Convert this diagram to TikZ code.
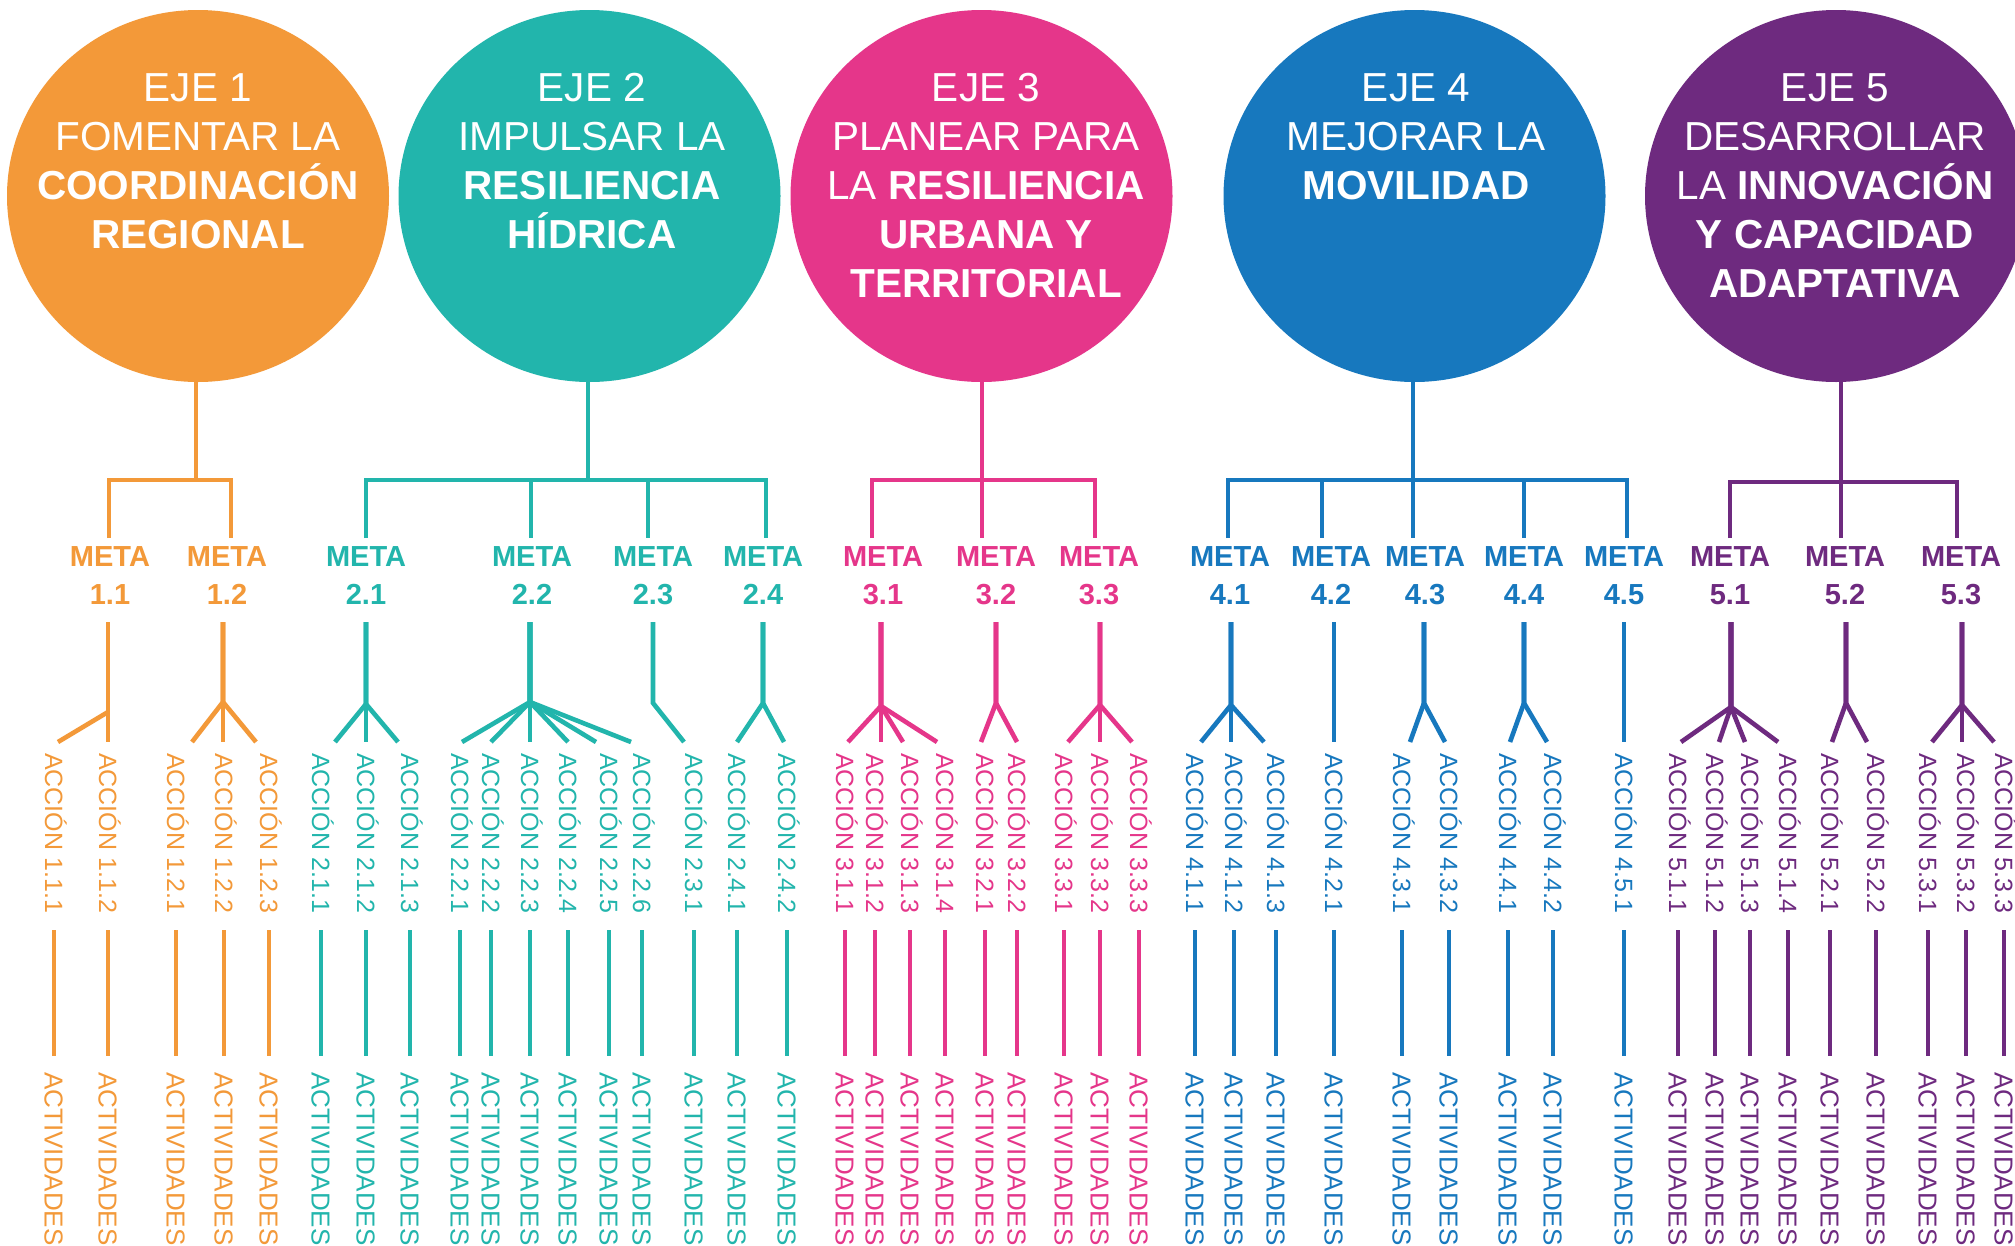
\documentclass[tikz,border=0pt]{standalone}
\usepackage{fontspec}
\setmainfont{Liberation Sans}
\usetikzlibrary{shapes.geometric}
\definecolor{c1}{HTML}{F39939}
\definecolor{c2}{HTML}{22B5AC}
\definecolor{c3}{HTML}{E5368A}
\definecolor{c4}{HTML}{1778BE}
\definecolor{c5}{HTML}{6E2A7F}
\newcommand\ejeline[4]{\node[ejetxt] (#1) at (#2,#3) {#4};}
\newcommand\metanode[4]{%
  \node[metatxt=#4] (m#1) at (#3,566) {META};
  \node[metatxt=#4] (n#1) at (#3,604) {#2};}
\newcommand\accnode[4]{%
  \node[accl=#4] (a#1) at (#3,742) {ACCIÓN #2};
  \node[actl=#4] (v#1) at (#3,1056) {ACTIVIDADES};
  \draw[midline=#4] (a#1.east) -- (v#1.west);}
\begin{document}
\begin{tikzpicture}[x=1pt,y=-1pt,
  ejetxt/.style={anchor=base, text=white, inner sep=0pt, font=\fontsize{40.5}{40.5}\selectfont},
  circ/.style={ellipse, minimum width=382pt, minimum height=372pt, inner sep=0pt, fill=#1},
  metatxt/.style={anchor=base, text=#1, inner sep=0pt, font=\bfseries\fontsize{29}{29}\selectfont},
  accl/.style={rotate=-90, anchor=west, text=#1, inner xsep=11pt, inner ysep=0pt, text height=17.9pt, text depth=0pt, font=\fontsize{25}{25}\selectfont},
  actl/.style={rotate=-90, anchor=west, text=#1, inner xsep=16pt, inner ysep=0pt, text height=18.6pt, text depth=0pt, font=\fontsize{26}{26}\selectfont},
  brk/.style={draw=#1, line width=4.6pt, line join=miter},
  midline/.style={draw=#1, line width=3.8pt, shorten <=6pt},
]
\useasboundingbox (0,0) rectangle (2015,1245);
\fill[white] (0,0) rectangle (2015,1245);

% ---- ejes ----
\node[circ=c1] (e1) at (198,196) {};
\node[circ=c2] (e2) at (589.5,196) {};
\node[circ=c3] (e3) at (981.5,196) {};
\node[circ=c4] (e4) at (1414.5,196) {};
\node[circ=c5] (e5) at (1836,196) {};

\ejeline{e1a}{198}{101}{EJE 1}
\ejeline{e1b}{198}{150}{FOMENTAR LA}
\ejeline{e1c}{198}{199}{\textbf{COORDINACIÓN}}
\ejeline{e1d}{198}{248}{\textbf{REGIONAL}}

\ejeline{e2a}{592}{101}{EJE 2}
\ejeline{e2b}{592}{150}{IMPULSAR LA}
\ejeline{e2c}{592}{199}{\textbf{RESILIENCIA}}
\ejeline{e2d}{592}{248}{\textbf{HÍDRICA}}

\ejeline{e3a}{986}{101}{EJE 3}
\ejeline{e3b}{986}{150}{PLANEAR PARA}
\ejeline{e3c}{986}{199}{LA \textbf{RESILIENCIA}}
\ejeline{e3d}{986}{248}{\textbf{URBANA Y}}
\ejeline{e3e}{986}{297}{\textbf{TERRITORIAL}}

\ejeline{e4a}{1416}{101}{EJE 4}
\ejeline{e4b}{1416}{150}{MEJORAR LA}
\ejeline{e4c}{1416}{199}{\textbf{MOVILIDAD}}

\ejeline{e5a}{1835}{101}{EJE 5}
\ejeline{e5b}{1835}{150}{DESARROLLAR}
\ejeline{e5c}{1835}{199}{LA \textbf{INNOVACIÓN}}
\ejeline{e5d}{1835}{248}{\textbf{Y CAPACIDAD}}
\ejeline{e5e}{1835}{297}{\textbf{ADAPTATIVA}}

% ---- metas ----
\metanode{11}{1.1}{110}{c1}
\metanode{12}{1.2}{227}{c1}
\metanode{21}{2.1}{366}{c2}
\metanode{22}{2.2}{532}{c2}
\metanode{23}{2.3}{653}{c2}
\metanode{24}{2.4}{763}{c2}
\metanode{31}{3.1}{883}{c3}
\metanode{32}{3.2}{996}{c3}
\metanode{33}{3.3}{1099}{c3}
\metanode{41}{4.1}{1230}{c4}
\metanode{42}{4.2}{1331}{c4}
\metanode{43}{4.3}{1425}{c4}
\metanode{44}{4.4}{1524}{c4}
\metanode{45}{4.5}{1624}{c4}
\metanode{51}{5.1}{1730}{c5}
\metanode{52}{5.2}{1845}{c5}
\metanode{53}{5.3}{1961}{c5}

% ---- brackets ----
\coordinate (j1) at (196,480);
\coordinate (d11) at (109,538); \coordinate (d12) at (231,538);
\draw[brk=c1] (j1 |- e1.south) -- (j1);
\draw[brk=c1] (d11) -- (d11 |- j1) -- (d12 |- j1) -- (d12);

\coordinate (j2) at (588,480);
\coordinate (d21) at (366,538); \coordinate (d22) at (531,538);
\coordinate (d23) at (648,538); \coordinate (d24) at (766,538);
\draw[brk=c2] (j2 |- e2.south) -- (j2);
\draw[brk=c2] (d21) -- (d21 |- j2) -- (d24 |- j2) -- (d24);
\draw[brk=c2] (d22 |- j2) -- (d22);
\draw[brk=c2] (d23 |- j2) -- (d23);

\coordinate (j3) at (982,480);
\coordinate (d31) at (872,538); \coordinate (d32) at (982,538); \coordinate (d33) at (1095,538);
\draw[brk=c3] (j3 |- e3.south) -- (j3);
\draw[brk=c3] (d31) -- (d31 |- j3) -- (d33 |- j3) -- (d33);
\draw[brk=c3] (d32 |- j3) -- (d32);

\coordinate (j4) at (1413,480);
\coordinate (d41) at (1228,538); \coordinate (d42) at (1322,538); \coordinate (d43) at (1413,538);
\coordinate (d44) at (1524,538); \coordinate (d45) at (1627,538);
\draw[brk=c4] (j4 |- e4.south) -- (j4);
\draw[brk=c4] (d41) -- (d41 |- j4) -- (d45 |- j4) -- (d45);
\draw[brk=c4] (d42 |- j4) -- (d42);
\draw[brk=c4] (d43 |- j4) -- (d43);
\draw[brk=c4] (d44 |- j4) -- (d44);

\coordinate (j5) at (1841,482);
\coordinate (d51) at (1730,538); \coordinate (d52) at (1841,538); \coordinate (d53) at (1957,538);
\draw[brk=c5] (j5 |- e5.south) -- (j5);
\draw[brk=c5] (d51) -- (d51 |- j5) -- (d53 |- j5) -- (d53);
\draw[brk=c5] (d52 |- j5) -- (d52);

% ---- acciones ----
\accnode{111}{1.1.1}{54}{c1}
\accnode{112}{1.1.2}{108}{c1}
\accnode{121}{1.2.1}{176}{c1}
\accnode{122}{1.2.2}{224}{c1}
\accnode{123}{1.2.3}{269}{c1}
\accnode{211}{2.1.1}{321}{c2}
\accnode{212}{2.1.2}{366}{c2}
\accnode{213}{2.1.3}{410}{c2}
\accnode{221}{2.2.1}{460}{c2}
\accnode{222}{2.2.2}{491}{c2}
\accnode{223}{2.2.3}{530}{c2}
\accnode{224}{2.2.4}{568}{c2}
\accnode{225}{2.2.5}{609}{c2}
\accnode{226}{2.2.6}{642}{c2}
\accnode{231}{2.3.1}{694}{c2}
\accnode{241}{2.4.1}{737}{c2}
\accnode{242}{2.4.2}{787}{c2}
\accnode{311}{3.1.1}{845}{c3}
\accnode{312}{3.1.2}{875}{c3}
\accnode{313}{3.1.3}{910}{c3}
\accnode{314}{3.1.4}{945}{c3}
\accnode{321}{3.2.1}{985}{c3}
\accnode{322}{3.2.2}{1017}{c3}
\accnode{331}{3.3.1}{1064}{c3}
\accnode{332}{3.3.2}{1100}{c3}
\accnode{333}{3.3.3}{1139}{c3}
\accnode{411}{4.1.1}{1195}{c4}
\accnode{412}{4.1.2}{1234}{c4}
\accnode{413}{4.1.3}{1276}{c4}
\accnode{421}{4.2.1}{1334}{c4}
\accnode{431}{4.3.1}{1402}{c4}
\accnode{432}{4.3.2}{1449}{c4}
\accnode{441}{4.4.1}{1508}{c4}
\accnode{442}{4.4.2}{1553}{c4}
\accnode{451}{4.5.1}{1624}{c4}
\accnode{511}{5.1.1}{1678}{c5}
\accnode{512}{5.1.2}{1715}{c5}
\accnode{513}{5.1.3}{1750}{c5}
\accnode{514}{5.1.4}{1788}{c5}
\accnode{521}{5.2.1}{1830}{c5}
\accnode{522}{5.2.2}{1876}{c5}
\accnode{531}{5.3.1}{1928}{c5}
\accnode{532}{5.3.2}{1966}{c5}
\accnode{533}{5.3.3}{2004}{c5}

% ---- forks ----
\coordinate (t11) at (108,622); \coordinate (f11) at (108,712);
\draw[brk=c1] (t11) -- (a112.west);
\draw[brk=c1] (f11) -- ([xshift=4pt]a111.west);

\coordinate (t12) at (223,622); \coordinate (f12) at (223,702);
\draw[brk=c1] (t12) -- (f12) -- ([xshift=16pt]a121.west);
\draw[brk=c1] (t12) -- (f12) -- ([xshift=-1pt]a122.west);
\draw[brk=c1] (t12) -- (f12) -- ([xshift=-13pt]a123.west);

\coordinate (t21) at (366,622); \coordinate (f21) at (366,704);
\draw[brk=c2] (t21) -- (f21) -- ([xshift=14pt]a211.west);
\draw[brk=c2] (t21) -- (f21) -- (a212.west);
\draw[brk=c2] (t21) -- (f21) -- ([xshift=-12pt]a213.west);

\coordinate (t22) at (530,622); \coordinate (f22) at (530,702);
\draw[brk=c2] (t22) -- (f22) -- ([xshift=2pt]a221.west);
\draw[brk=c2] (t22) -- (f22) -- (a222.west);
\draw[brk=c2] (t22) -- (f22) -- (a223.west);
\draw[brk=c2] (t22) -- (f22) -- (a224.west);
\draw[brk=c2] (t22) -- (f22) -- ([xshift=-13pt]a225.west);
\draw[brk=c2] (t22) -- (f22) -- ([xshift=-11pt]a226.west);

\coordinate (t23) at (653,622); \coordinate (f23) at (653,703);
\draw[brk=c2] (t23) -- (f23) -- ([xshift=-10pt]a231.west);

\coordinate (t24) at (763,622); \coordinate (f24) at (763,703);
\draw[brk=c2] (t24) -- (f24) -- (a241.west);
\draw[brk=c2] (t24) -- (f24) -- ([xshift=-3pt]a242.west);

\coordinate (t31) at (881,622); \coordinate (f31) at (881,706);
\draw[brk=c3] (t31) -- (f31) -- ([xshift=3pt]a311.west);
\draw[brk=c3] (t31) -- (f31) -- ([xshift=6pt]a312.west);
\draw[brk=c3] (t31) -- (f31) -- ([xshift=-7pt]a313.west);
\draw[brk=c3] (t31) -- (f31) -- ([xshift=-8pt]a314.west);

\coordinate (t32) at (996,622); \coordinate (f32) at (996,703);
\draw[brk=c3] (t32) -- (f32) -- ([xshift=-4pt]a321.west);
\draw[brk=c3] (t32) -- (f32) -- (a322.west);

\coordinate (t33) at (1100,622); \coordinate (f33) at (1100,705);
\draw[brk=c3] (t33) -- (f33) -- ([xshift=4pt]a331.west);
\draw[brk=c3] (t33) -- (f33) -- (a332.west);
\draw[brk=c3] (t33) -- (f33) -- ([xshift=-7pt]a333.west);

\coordinate (t41) at (1231,622); \coordinate (f41) at (1231,705);
\draw[brk=c4] (t41) -- (f41) -- ([xshift=6pt]a411.west);
\draw[brk=c4] (t41) -- (f41) -- ([xshift=-3pt]a412.west);
\draw[brk=c4] (t41) -- (f41) -- ([xshift=-12pt]a413.west);

\coordinate (t42) at (1334,622);
\draw[brk=c4] (t42) -- (a421.west);

\coordinate (t43) at (1424,622); \coordinate (f43) at (1424,703);
\draw[brk=c4] (t43) -- (f43) -- ([xshift=8pt]a431.west);
\draw[brk=c4] (t43) -- (f43) -- ([xshift=-4pt]a432.west);

\coordinate (t44) at (1524,622); \coordinate (f44) at (1524,703);
\draw[brk=c4] (t44) -- (f44) -- ([xshift=2pt]a441.west);
\draw[brk=c4] (t44) -- (f44) -- ([xshift=-6pt]a442.west);

\coordinate (t45) at (1624,622);
\draw[brk=c4] (t45) -- (a451.west);

\coordinate (t51) at (1731,622); \coordinate (f51) at (1731,707);
\draw[brk=c5] (t51) -- (f51) -- ([xshift=3pt]a511.west);
\draw[brk=c5] (t51) -- (f51) -- ([xshift=4pt]a512.west);
\draw[brk=c5] (t51) -- (f51) -- ([xshift=-5pt]a513.west);
\draw[brk=c5] (t51) -- (f51) -- ([xshift=-10pt]a514.west);

\coordinate (t52) at (1846,622); \coordinate (f52) at (1846,703);
\draw[brk=c5] (t52) -- (f52) -- ([xshift=2pt]a521.west);
\draw[brk=c5] (t52) -- (f52) -- ([xshift=-9pt]a522.west);

\coordinate (t53) at (1962,622); \coordinate (f53) at (1962,705);
\draw[brk=c5] (t53) -- (f53) -- ([xshift=4pt]a531.west);
\draw[brk=c5] (t53) -- (f53) -- ([xshift=-4pt]a532.west);
\draw[brk=c5] (t53) -- (f53) -- ([xshift=-10pt]a533.west);
\end{tikzpicture}
\end{document}
